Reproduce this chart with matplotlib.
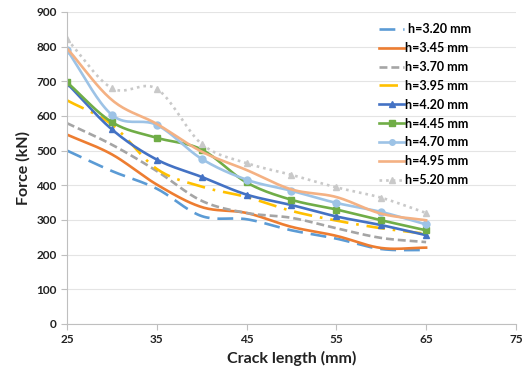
import numpy as np
import matplotlib
matplotlib.use('Agg')
import matplotlib.pyplot as plt

plt.rcParams['font.family'] = ['Lato', 'DejaVu Sans']
plt.rcParams['font.weight'] = 'bold'

# data
crack = [25, 30, 35, 40, 45, 50, 55, 60, 65]
h320 = [500, 441, 390, 311, 302, 270, 246, 216, 213]
h345 = [546, 489, 402, 337, 320, 280, 254, 219, 220]
h370 = [579, 517, 441, 355, 320, 306, 276, 248, 236]
h395 = [645, 575, 447, 396, 366, 326, 298, 276, 260]
h420 = [694, 561, 474, 424, 373, 343, 310, 285, 256]
h445 = [697, 582, 537, 503, 408, 358, 330, 299, 270]
h470 = [790, 603, 574, 476, 416, 384, 349, 323, 287]
h495 = [795, 646, 577, 497, 444, 388, 366, 318, 299]
h520 = [821, 680, 678, 519, 464, 430, 394, 364, 320]
labels = [' h=3.20 mm', 'h=3.45 mm', 'h=3.70 mm', 'h=3.95 mm', 'h=4.20 mm',
          'h=4.45 mm', 'h=4.70 mm', 'h=4.95 mm', 'h=5.20 mm']

series = [h320, h345, h370, h395, h420, h445, h470, h495, h520]
colors = ['#5B9BD5', '#ED7D31', '#A5A5A5', '#FFC000', '#4472C4',
          '#70AD47', '#9DC3E6', '#F4B183', '#C9C9C9']
styles = [(0, (6, 3)), '-', (0, (3, 1.5)), (0, (7, 3, 1, 3)), '-', '-', '-', '-', (0, (1, 1.5))]
markers = [None, None, None, None, '^', 's', 'o', None, '^']

N = 20  # samples per segment for smoothing


def smooth(x, y, n=N):
    # catmull-rom style smoothing like excel's smoothed line
    x = np.asarray(x, float)
    y = np.asarray(y, float)
    px = np.concatenate([[2 * x[0] - x[1]], x, [2 * x[-1] - x[-2]]])
    py = np.concatenate([[2 * y[0] - y[1]], y, [2 * y[-1] - y[-2]]])
    xs, ys = [], []
    t = np.linspace(0, 1, n, endpoint=False)
    for i in range(1, len(px) - 2):
        for p, out in ((px, xs), (py, ys)):
            p0, p1, p2, p3 = p[i - 1], p[i], p[i + 1], p[i + 2]
            out.extend(0.5 * ((2 * p1) + (-p0 + p2) * t +
                              (2 * p0 - 5 * p1 + 4 * p2 - p3) * t ** 2 +
                              (-p0 + 3 * p1 - 3 * p2 + p3) * t ** 3))
    xs.append(x[-1])
    ys.append(y[-1])
    return np.array(xs), np.array(ys)


fig = plt.figure(figsize=(5.28, 3.74), dpi=100)
ax = fig.add_axes([0.127, 0.134, 0.85, 0.834])

for y, c, ls, m, lab in zip(series, colors, styles, markers, labels):
    sx, sy = smooth(crack, y)
    ax.plot(sx, sy, color=c, linestyle=ls, linewidth=1.9, marker=m,
            markersize=5, markevery=list(range(0, len(sx), N)), label=lab)

ax.set_xlim(25, 75)
ax.set_ylim(0, 900)
ax.set_xticks(range(25, 76, 10))
ax.set_yticks(range(0, 901, 100))
ax.grid(axis='y', color='#E4E4E4', linewidth=0.8)
ax.set_axisbelow(True)
for s in ['top', 'right']:
    ax.spines[s].set_visible(False)
for s in ['left', 'bottom']:
    ax.spines[s].set_color('#BFBFBF')
ax.tick_params(colors='#BFBFBF', labelcolor='#222222', labelsize=8.5, length=4)
ax.set_xlabel('Crack length (mm)', fontsize=11.5, fontweight='bold', color='#222222')
ax.set_ylabel('Force (kN)', fontsize=11.5, fontweight='bold', color='#222222')

ax.legend(loc='upper left', bbox_to_anchor=(0.67, 1.0), frameon=False,
          fontsize=9, numpoints=1, handlelength=2.0, handletextpad=0.1,
          labelspacing=0.55, markerscale=0.8)

fig.savefig('out.png', dpi=100)
